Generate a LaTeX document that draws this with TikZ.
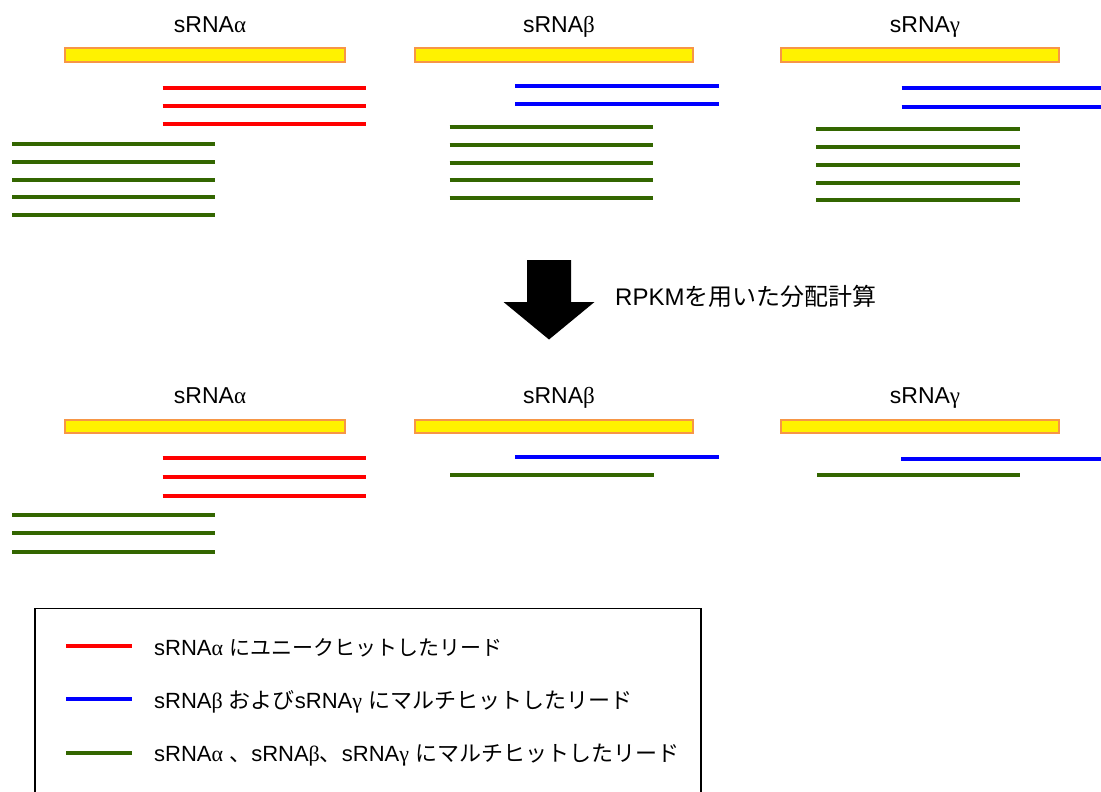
\documentclass[tikz,border=0pt]{standalone}
\usepackage{fontspec}
\setmainfont{Liberation Sans}
\newfontfamily\jp{Noto Sans CJK JP}
\newfontfamily\gr{Liberation Serif}
\newcommand{\J}[1]{{\jp #1}}
\newcommand{\G}[1]{{\gr #1}}
\definecolor{barorange}{RGB}{247,150,70}
\definecolor{readgreen}{RGB}{51,102,0}
\definecolor{readred}{RGB}{255,0,0}
\definecolor{readblue}{RGB}{0,0,255}
\tikzset{
  every node/.style={font=\fontsize{22}{26}\selectfont, inner sep=0pt},
  genebar/.style={draw=barorange, fill=yellow, line width=2pt},
  redread/.style={draw=readred, line width=4pt},
  bluread/.style={draw=readblue, line width=4pt},
  grnread/.style={draw=readgreen, line width=4pt},
  lbl/.style={anchor=base, font=\fontsize{23}{27}\selectfont},
  legtext/.style={anchor=base west},
}
\begin{document}
\begin{tikzpicture}[x=1pt,y=-1pt]
\useasboundingbox (0,0) rectangle (1101,792);
\clip (0,0) rectangle (1101,792);

% ---------- top row ----------
\node[lbl] (la1) at (210,32.3) {sRNA\G{α}};
\node[lbl] (lb1) at (559,32.3) {sRNA\G{β}};
\node[lbl] (lg1) at (925,32.3) {sRNA\G{γ}};
\draw[genebar] (65,48.5) rectangle (345,62);
\draw[genebar] (415,48.5) rectangle (693,62);
\draw[genebar] (781,48.5) rectangle (1059,62);
\foreach \y in {87.7,106.3,124.3} \draw[redread] (162.5,\y) -- (365.5,\y);
\foreach \y in {144,161.7,179.7,197.3,215} \draw[grnread] (12,\y) -- (215,\y);
\foreach \y in {85.7,104} \draw[bluread] (515,\y) -- (719,\y);
\foreach \y in {127.3,145.3,163,180.3,198.3} \draw[grnread] (449.5,\y) -- (652.5,\y);
\foreach \y in {88,106.7} \draw[bluread] (901.5,\y) -- (1101,\y);
\foreach \y in {129,147,164.7,182.7,200.3} \draw[grnread] (816,\y) -- (1019.5,\y);

% ---------- arrow ----------
\fill[black] (527,260) -- (571,260) -- (571,302) -- (594.5,302) -- (549,339.5) -- (503.5,302) -- (527,302) -- cycle;
\node[legtext, font=\fontsize{24}{28}\selectfont] (calc) at (615,305.5) {RPKM\J{を用いた分配計算}};

% ---------- bottom row ----------
\node[lbl] (la2) at (210,403.3) {sRNA\G{α}};
\node[lbl] (lb2) at (559,403.3) {sRNA\G{β}};
\node[lbl] (lg2) at (925,403.3) {sRNA\G{γ}};
\draw[genebar] (65,419.5) rectangle (345,432.7);
\draw[genebar] (415,419.5) rectangle (693,432.7);
\draw[genebar] (781,419.5) rectangle (1059,432.7);
\foreach \y in {458.3,477,495.7} \draw[redread] (162.5,\y) -- (365.5,\y);
\foreach \y in {514.7,533.3,551.7} \draw[grnread] (12,\y) -- (215,\y);
\draw[bluread] (515,456.7) -- (718.5,456.7);
\draw[grnread] (450,475.3) -- (654,475.3);
\draw[bluread] (901,459.3) -- (1101,459.3);
\draw[grnread] (817,475.3) -- (1020,475.3);

% ---------- legend ----------
\draw[black, line width=1.5pt] (35,820) -- (35,608.5) -- (701,608.5) -- (701,820);
\draw[redread] (66,646) -- (132,646);
\draw[bluread] (66,699) -- (132,699);
\draw[grnread] (66,752.5) -- (132,752.5);
\node[legtext] (t1) at (154,655.3) {sRNA\G{α} {\jp\fontsize{21}{25}\selectfont にユニークヒットしたリード}};
\node[legtext] (t2) at (154,708.3) {sRNA\G{β} \J{および}sRNA\G{γ} \J{にマルチヒットしたリード}};
\node[legtext] (t3) at (154,761.3) {sRNA\G{α} \J{、}sRNA\G{β}\J{、}sRNA\G{γ} \J{にマルチヒットしたリード}};
\end{tikzpicture}
\end{document}
